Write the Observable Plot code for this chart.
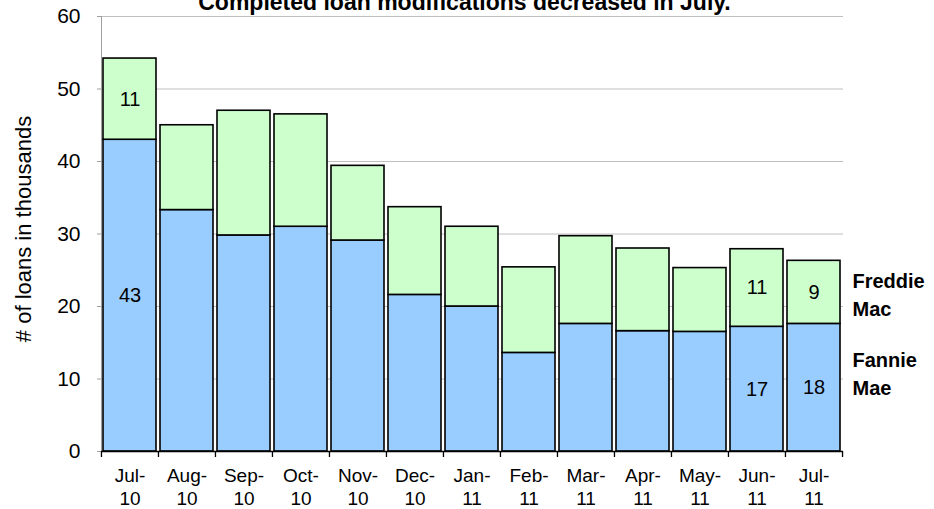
<!DOCTYPE html>
<html>
<head>
<meta charset="utf-8">
<script src="https://cdn.jsdelivr.net/npm/d3@7"></script>
<script src="https://cdn.jsdelivr.net/npm/@observablehq/plot@0.6"></script>
<style>
  html, body { margin: 0; padding: 0; background: #ffffff; }
  #chart svg { display: block; }
</style>
</head>
<body>
<div id="chart"></div>
<script>
const title = "Completed loan modifications decreased in July.";
const yTitle = "# of loans in thousands";
const months = ["Jul-10","Aug-10","Sep-10","Oct-10","Nov-10","Dec-10","Jan-11","Feb-11","Mar-11","Apr-11","May-11","Jun-11","Jul-11"];
const fannieMae  = [43.0, 33.3, 29.8, 31.0, 29.1, 21.6, 20.0, 13.6, 17.6, 16.6, 16.5, 17.2, 17.6];
const freddieMac = [11.2, 11.7, 17.2, 15.5, 10.3, 12.1, 11.0, 11.8, 12.1, 11.4, 8.8, 10.7, 8.7];
const yTicks = [0, 10, 20, 30, 40, 50, 60];
const labeledMonths = ["Jul-10", "Jun-11", "Jul-11"];
const seriesNames = ["Fannie Mae", "Freddie Mac"];
const seriesColors = ["#99CCFF", "#CCFFCC"];

const data = [];
months.forEach((m, i) => {
  data.push({month: m, series: seriesNames[0], value: fannieMae[i]});
  data.push({month: m, series: seriesNames[1], value: freddieMac[i]});
});

const W = 934, H = 509;
const mL = 101, mR = 91, mT = 16, mB = 58;
const step = (W - mL - mR) / months.length;
const font = "'Liberation Sans', Arial, Helvetica, sans-serif";

const chart = Plot.plot({
  width: W,
  height: H,
  marginLeft: mL,
  marginRight: mR,
  marginTop: mT,
  marginBottom: mB,
  style: {fontFamily: font, background: "#ffffff", color: "#000000", overflow: "visible"},
  x: {domain: months, paddingInner: 0.07, paddingOuter: 0.035, axis: null},
  y: {domain: [0, 60], axis: null},
  color: {domain: seriesNames, range: seriesColors},
  marks: [
    Plot.ruleY(yTicks.filter(d => d > 0), {stroke: "#c0c0c0", strokeWidth: 1}),
    Plot.frame({anchor: "left", stroke: "#a0a0a0"}),
    Plot.axisY(yTicks, {label: null, tickSize: 4, stroke: "#a0a0a0", tickPadding: 17, fontSize: 21, fill: "#000"}),
    Plot.barY(data, {x: "month", y: "value", fill: "series", stroke: "#000", strokeWidth: 1.6}),
    Plot.ruleY([0], {stroke: "#000", strokeWidth: 1.6}),
    Plot.axisX(months, {label: null, tickSize: 6, stroke: "#000", strokeWidth: 1.3, tickFormat: () => "", dx: -step / 2}),
    Plot.axisX(months.slice(-1), {label: null, tickSize: 6, stroke: "#000", strokeWidth: 1.3, tickFormat: () => "", dx: step / 2}),
    Plot.text(months, {
      x: d => d, text: d => d.replace("-", "-\n"),
      frameAnchor: "bottom", lineAnchor: "top", dy: 14.5, lineHeight: 1.2,
      fontSize: 19, fill: "#000"
    }),
    Plot.text(data, Plot.stackY({
      filter: d => labeledMonths.includes(d.month),
      x: "month", y: "value", z: "series",
      text: d => String(Math.round(d.value)),
      fontSize: 20, fill: "#000"
    })),
    Plot.text([title], {
      frameAnchor: "top", dx: -8, dy: -13.4, lineAnchor: "middle",
      fontSize: 23, fontWeight: "bold", fill: "#000"
    }),
    Plot.text([yTitle], {
      frameAnchor: "left", textAnchor: "middle", dx: -78, dy: -5, rotate: -90,
      fontSize: 22, fill: "#000"
    }),
    Plot.text([seriesNames[1].replace(" ", "\n")], {
      frameAnchor: "right", textAnchor: "start", dx: 9, dy: 59,
      lineHeight: 1.385, fontSize: 20, fontWeight: "bold", fill: "#000"
    }),
    Plot.text([seriesNames[0].replace(" ", "\n")], {
      frameAnchor: "right", textAnchor: "start", dx: 9, dy: 138,
      lineHeight: 1.385, fontSize: 20, fontWeight: "bold", fill: "#000"
    })
  ]
});

document.getElementById("chart").appendChild(chart);
</script>
</body>
</html>
